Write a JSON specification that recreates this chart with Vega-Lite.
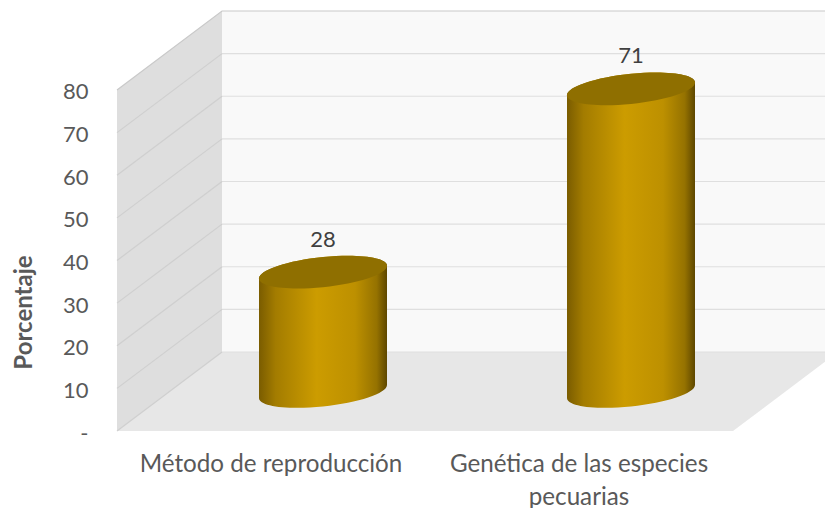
{
"$schema":"https://vega.github.io/schema/vega-lite/v6.json",
"width":708,"height":420,
"autosize":{"type":"none"},
"padding":{"left":117,"top":11,"right":0,"bottom":77},
"background":"white",
"config":{"view":{"stroke":null},"font":"Lato"},
"datasets":{
"superficies":[
{"superficie":"fondo","px":17.05,"py":18.53,"py2":98.53},
{"superficie":"fondo","px":117.05,"py":18.53,"py2":98.53},
{"superficie":"lateral","px":0,"py":0,"py2":80},
{"superficie":"lateral","px":17.05,"py":18.53,"py2":98.53},
{"superficie":"piso","px":0,"py":0,"py2":0},
{"superficie":"piso","px":17.05,"py":0,"py2":18.53},
{"superficie":"piso","px":100,"py":0,"py2":18.53},
{"superficie":"piso","px":117.05,"py":18.53,"py2":18.53}
],
"rejilla":[
{"t":10,"px":0,"py":10},{"t":10,"px":17.05,"py":28.53},{"t":10,"px":117.05,"py":28.53},
{"t":20,"px":0,"py":20},{"t":20,"px":17.05,"py":38.53},{"t":20,"px":117.05,"py":38.53},
{"t":30,"px":0,"py":30},{"t":30,"px":17.05,"py":48.53},{"t":30,"px":117.05,"py":48.53},
{"t":40,"px":0,"py":40},{"t":40,"px":17.05,"py":58.53},{"t":40,"px":117.05,"py":58.53},
{"t":50,"px":0,"py":50},{"t":50,"px":17.05,"py":68.53},{"t":50,"px":117.05,"py":68.53},
{"t":60,"px":0,"py":60},{"t":60,"px":17.05,"py":78.53},{"t":60,"px":117.05,"py":78.53},
{"t":70,"px":0,"py":70},{"t":70,"px":17.05,"py":88.53},{"t":70,"px":117.05,"py":88.53},
{"t":0,"px":0,"py":0},{"t":0,"px":17.05,"py":18.53},{"t":0,"px":117.05,"py":18.53},
{"t":80,"px":0,"py":80},{"t":80,"px":17.05,"py":98.53},{"t":80,"px":117.05,"py":98.53}
],
"barras":[
{"tema":"Método de reproducción","porcentaje":28},
{"tema":"Genética de las especies pecuarias","porcentaje":71}
]
},
"resolve":{"scale":{"x":"independent"},"axis":{"y":"independent"}},
"layer":[
{"encoding":{
"x":{"field":"px","type":"quantitative","scale":{"domain":[0,114.94],"nice":false,"zero":false},"axis":null},
"y":{"field":"py","type":"quantitative","scale":{"domain":[0,98.53],"nice":false},
"axis":{"title":"Porcentaje","titleFontSize":24,"titleFontWeight":"bold","titleColor":"#595959","titleX":-81,"titleY":301,"titleAlign":"center","titleAngle":-90,"values":[0,10,20,30,40,50,60,70,80],"labelExpr":"datum.value===0?'-':datum.label","labelFontSize":22,"labelColor":"#595959","labelPadding":29,"labelOffset":2,"domain":false,"ticks":false,"grid":false}}},
"layer":[
{"data":{"name":"superficies"},"transform":[{"filter":"datum.superficie==='fondo'"}],"mark":{"type":"area","fill":"#f9f9f9"},"encoding":{"y2":{"field":"py2"}}},
{"data":{"name":"superficies"},"transform":[{"filter":"datum.superficie==='lateral'"}],"mark":{"type":"area","fill":"#dedede"},"encoding":{"y2":{"field":"py2"}}},
{"data":{"name":"superficies"},"transform":[{"filter":"datum.superficie==='piso'"}],"mark":{"type":"area","fill":"#e7e7e7"},"encoding":{"y2":{"field":"py2"}}},
{"data":{"name":"rejilla"},"transform":[{"filter":"datum.t<80 && datum.px>=17"}],"mark":{"type":"line","stroke":"#dfdfdf","strokeWidth":1.2},"encoding":{"detail":{"field":"t"}}},
{"data":{"name":"rejilla"},"transform":[{"filter":"datum.t<80 && datum.px<=17.05"}],"mark":{"type":"line","stroke":"#cfcfcf","strokeWidth":1.2},"encoding":{"detail":{"field":"t"}}},
{"data":{"name":"rejilla"},"transform":[{"filter":"datum.t===80"}],"mark":{"type":"line","stroke":"#c9c9c9","strokeWidth":1.2},"encoding":{"detail":{"field":"t"}}}
]},
{"data":{"name":"barras"},
"encoding":{"x":{"field":"tema","type":"nominal","sort":null,"scale":{"type":"band","domain":["Método de reproducción","Genética de las especies pecuarias"],"range":[0,616],"paddingInner":0,"paddingOuter":0},
"axis":{"title":null,"labelAngle":0,"labelFontSize":24.2,"labelColor":"#595959","labelPadding":21,"labelLimit":400,"labelLineHeight":33,"labelExpr":"datum.label==='Genética de las especies pecuarias'?['Genética de las especies','pecuarias']:datum.label","domain":false,"ticks":false,"grid":false}}},
"layer":[
{"mark":{"type":"point","filled":true,"opacity":1,"size":16384,"xOffset":52,"yOffset":-52.3,"shape":"M-1 .1C-1 -.0298 -.5523 -.1798 0 -.235C.5523 -.2902 1 -.2298 1 -.1L1 .1C1 .2298 .5523 .3798 0 .435C-.5523 .4902 -1 .4298 -1 .3Z","fill":{"x1":0,"y1":0,"x2":1,"y2":0,"gradient":"linear","stops":[{"offset":0,"color":"#7a5c00"},{"offset":0.13,"color":"#a37c00"},{"offset":0.45,"color":"#cc9c00"},{"offset":0.75,"color":"#bd9000"},{"offset":0.92,"color":"#957200"},{"offset":1,"color":"#5e4700"}]}},
"encoding":{"y":{"datum":0,"type":"quantitative","axis":null}}},
{"mark":{"type":"bar","size":128,"xOffset":52,"yOffset":-33.1,"y2Offset":-45.9,"fill":{"x1":0,"y1":0,"x2":1,"y2":0,"gradient":"linear","stops":[{"offset":0,"color":"#7a5c00"},{"offset":0.13,"color":"#a37c00"},{"offset":0.45,"color":"#cc9c00"},{"offset":0.75,"color":"#bd9000"},{"offset":0.92,"color":"#957200"},{"offset":1,"color":"#5e4700"}]}},
"encoding":{"y":{"field":"porcentaje","type":"quantitative","stack":null,"axis":null},"y2":{"datum":0}}},
{"mark":{"type":"point","filled":true,"opacity":1,"size":16384,"xOffset":52,"yOffset":-39.5,"shape":"M-1 .1C-1 -.0298 -.5523 -.1798 0 -.235C.5523 -.2902 1 -.2298 1 -.1L1 .1C1 .2298 .5523 .3798 0 .435C-.5523 .4902 -1 .4298 -1 .3Z","fill":{"x1":0,"y1":0,"x2":1,"y2":0,"gradient":"linear","stops":[{"offset":0,"color":"#7a5c00"},{"offset":0.13,"color":"#a37c00"},{"offset":0.45,"color":"#cc9c00"},{"offset":0.75,"color":"#bd9000"},{"offset":0.92,"color":"#957200"},{"offset":1,"color":"#5e4700"}]}},
"encoding":{"y":{"field":"porcentaje","type":"quantitative","axis":null}}},
{"mark":{"type":"point","filled":true,"opacity":1,"size":16384,"xOffset":52,"yOffset":-39.5,"fill":"#8f6f00","shape":"M-1 .1C-1 -.0298 -.5523 -.1798 0 -.235C.5523 -.2902 1 -.2298 1 -.1C1 .0298 .5523 .1798 0 .235C-.5523 .2902 -1 .2298 -1 .1Z"},
"encoding":{"y":{"field":"porcentaje","type":"quantitative","axis":null}}},
{"mark":{"type":"text","fontSize":22,"color":"#404040","xOffset":52,"yOffset":-72,"baseline":"middle","align":"center"},
"encoding":{"y":{"field":"porcentaje","type":"quantitative","axis":null},"text":{"field":"porcentaje","type":"quantitative"}}}
]}
]
}
